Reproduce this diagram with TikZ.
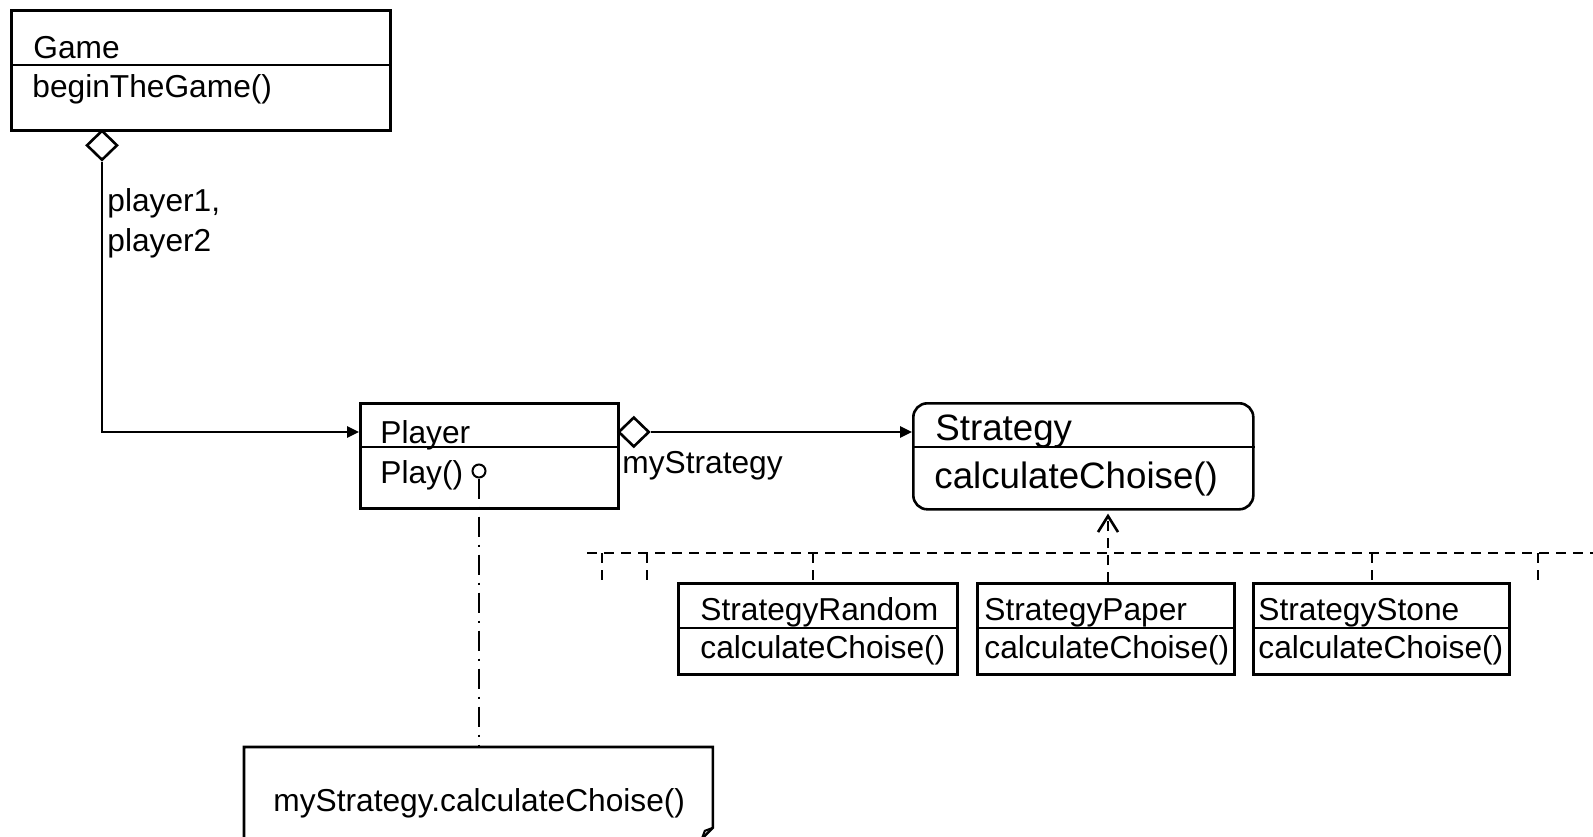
\documentclass[tikz,border=0pt]{standalone}
\usepackage{fontspec}
\setmainfont{Liberation Sans}
\usetikzlibrary{shapes.geometric, arrows.meta, positioning}

\begin{document}
\begin{tikzpicture}[
  x=0.5pt, y=-0.5pt,
  cls/.style={rectangle, draw, line width=1.3pt, inner sep=0pt, anchor=north west},
  lbl/.style={anchor=base west, inner sep=0pt, font=\fontsize{15.85}{19.7}\selectfont},
  biglbl/.style={lbl, font=\fontsize{18.35}{22}\selectfont},
  sep/.style={line width=1.3pt},
  aggr/.style={diamond, draw, fill=white, line width=1.3pt, inner sep=0pt,
               minimum width=15.5pt, minimum height=15pt},
  assoc/.style={line width=1.3pt, -{Triangle[length=6pt,width=5.5pt]}},
  realiz/.style={line width=1.3pt, dash pattern=on 5pt off 3.5pt},
  notelink/.style={line width=1.3pt, dash pattern=on 10pt off 4pt on 1pt off 4pt}
]
\clip (0,0) rectangle (1593,836);

% Game
\node[cls, minimum width=189.5pt, minimum height=60pt] (game) at (10,9) {};
\draw[sep] ([yshift=-28pt]game.north west) -- ([yshift=-28pt]game.north east);
\node[lbl] (gamename) at (33,58) {Game};
\node[lbl] (gameop) at (32,97) {beginTheGame()};
\node[aggr, anchor=north] (gdia) at (102,129) {};

% Player
\node[cls, minimum width=129pt, minimum height=52.5pt] (player) at (359,402) {};
\draw[sep] ([yshift=-22.5pt]player.north west) -- ([yshift=-22.5pt]player.north east);
\node[lbl] (playername) at (380,443) {Player};
\node[lbl] (playop) at (380,483) {Play()};
\node[circle, draw, line width=1pt, minimum size=6.5pt, inner sep=0pt] (lolly) at (479,471) {};
\node[aggr, anchor=west] (pdia) at (617,432) {};

% Strategy
\node[cls, rounded corners=7pt, minimum width=170pt, minimum height=53pt] (strategy) at (912,402) {};
\draw[sep] ([yshift=-22.5pt]strategy.north west) -- ([yshift=-22.5pt]strategy.north east);
\node[biglbl] (stratname) at (935,440) {Strategy};
\node[biglbl] (stratop) at (934,488) {calculateChoise()};

% concrete strategies
\node[cls, minimum width=139.5pt, minimum height=45.5pt] (random) at (677,582) {};
\node[cls, minimum width=128.5pt, minimum height=45.5pt, right=8.7pt of random] (paper) {};
\node[cls, minimum width=128pt, minimum height=45.5pt, right=8.2pt of paper] (stone) {};
\draw[sep] ([yshift=-23pt]random.north west) -- ([yshift=-23pt]random.north east);
\draw[sep] ([yshift=-23pt]paper.north west) -- ([yshift=-23pt]paper.north east);
\draw[sep] ([yshift=-23pt]stone.north west) -- ([yshift=-23pt]stone.north east);
\node[lbl] (randomname) at (700,620) {StrategyRandom};
\node[lbl] (randomop) at (700,658) {calculateChoise()};
\node[lbl] (papername) at (984,620) {StrategyPaper};
\node[lbl] (paperop) at (984,658) {calculateChoise()};
\node[lbl] (stonename) at (1258,620) {StrategyStone};
\node[lbl] (stoneop) at (1258,658) {calculateChoise()};

% note
\node[inner sep=0pt, minimum width=234pt, minimum height=55pt, anchor=north west] (note) at (244,747) {};
\draw[sep] (note.south west) -- (note.north west) -- (note.north east)
  -- ([yshift=15pt]note.south east) -- ([xshift=-15pt]note.south east);
\draw[line width=1pt] ([yshift=15pt]note.south east) -- ++(-4pt,-1.5pt) -- ++(-1.5pt,-4pt);
\node[lbl] (notetext) at (273,811) {myStrategy.calculateChoise()};

% associations
\draw[assoc] (gdia.south) |- ([yshift=-15pt]player.north west);
\node[lbl, align=left] (roles) at (107,251) {player1,\\player2};
\draw[assoc] (pdia.east) -- (pdia.east -| strategy.west);
\node[lbl] (rolename) at (622,473) {myStrategy};

% realization
\coordinate (busL) at (587,553);
\coordinate (busR) at (1593,553);
\draw[realiz] (busL) -- (busR);
\foreach \x in {602,647,1538}
  \draw[realiz] (\x,553) -- (\x,582);
\coordinate (rtop) at ([xshift=68pt]random.north west);
\coordinate (ptop) at ([xshift=66pt]paper.north west);
\coordinate (stop) at ([xshift=60pt]stone.north west);
\draw[realiz] (rtop |- busL) -- (rtop);
\draw[realiz] (stop |- busL) -- (stop);
\draw[realiz, -{Straight Barb[length=8pt,width=10pt]}, shorten >=1.5pt] (ptop) -- (ptop |- strategy.south);

% note link
\draw[notelink] (lolly.south) -- (lolly.south |- note.north);
\end{tikzpicture}
\end{document}
